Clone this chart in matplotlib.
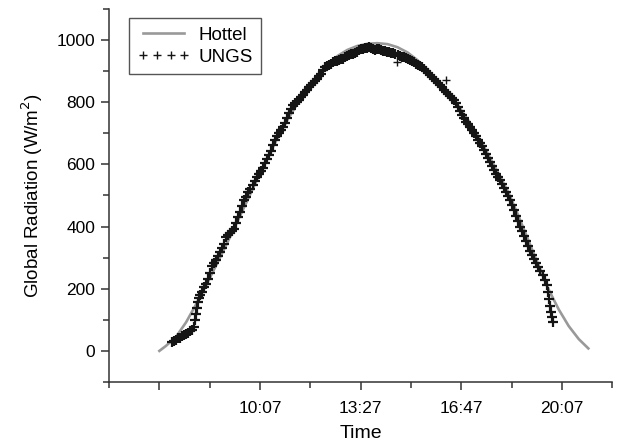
import numpy as np
import matplotlib.pyplot as plt
from matplotlib.ticker import MultipleLocator, FixedLocator

plt.rcParams['font.family'] = ['Liberation Sans', 'DejaVu Sans']

# time axis is in minutes of the day
hottel_time = [407, 420, 440, 460, 480, 500, 520, 540, 560, 580, 600, 620, 640, 660,
               680, 700, 720, 740, 760, 780, 800, 820, 840, 860, 880, 900, 920, 940,
               960, 980, 1000, 1020, 1040, 1060, 1080, 1100, 1120, 1140, 1160, 1180,
               1200, 1220, 1240, 1259]
hottel_value = [0, 16, 45, 92, 150, 212, 276, 342, 410, 478, 548, 615, 680, 740,
                792, 840, 882, 920, 948, 968, 981, 988, 990, 987, 977, 960, 935, 904,
                866, 828, 790, 742, 690, 632, 572, 510, 435, 355, 276, 198,
                134, 80, 38, 8]

# UNGS measurements, one sample every 4 minutes starting at 7:12
ungs_start = 432
ungs_step = 4
ungs_value = [30, 33, 35, 40, 42, 47, 50, 55, 58, 64, 68, 76, 118, 158, 180, 190,
              205, 214, 232, 252, 272, 283, 292, 304, 318, 330, 345, 365, 372, 378,
              385, 393, 412, 432, 448, 466, 484, 496, 510, 522, 535, 548, 558, 570,
              580, 590, 606, 618, 630, 644, 662, 680, 690, 700, 710, 721, 734, 750,
              766, 778, 790, 797, 802, 808, 816, 824, 832, 840, 848, 856, 862, 868,
              876, 884, 892, 904, 912, 917, 921, 924, 928, 932, 934, 937, 938, 940,
              946, 950, 952, 954, 956, 959, 962, 968, 970, 972, 973, 975, 977, 976,
              972, 968, 972, 970, 967, 965, 964, 962, 961, 960, 958, 956, 953, 950,
              947, 944, 942, 940, 936, 932, 928, 924, 920, 917, 912, 906, 900, 894,
              888, 882, 875, 868, 861, 854, 848, 840, 834, 828, 820, 814, 808, 796,
              784, 772, 760, 748, 738, 729, 720, 710, 700, 690, 680, 670, 658, 646,
              634, 620, 607, 594, 582, 570, 560, 550, 538, 525, 511, 498, 486, 470,
              453, 435, 418, 400, 386, 371, 355, 338, 322, 309, 296, 284, 271, 258,
              244, 228, 212, 168, 124, 92]
ungs_time = ungs_start + ungs_step * np.arange(len(ungs_value))

# extra readings on the steep morning / evening steps
step_time = [478, 482, 486, 1178, 1182, 1186]
step_value = [98, 138, 170, 190, 146, 108]

# isolated readings off the main band
outlier_time = [878, 977]
outlier_value = [931, 872]

tick_pos = [407, 607, 807, 1007, 1207]
tick_labels = ['', '10:07', '13:27', '16:47', '20:07']

fig = plt.figure(figsize=(6.17, 4.45), dpi=100)
ax = fig.add_axes([0.1767, 0.1416, 0.8160, 0.8382])

ax.plot(hottel_time, hottel_value, color='#999999', lw=1.9, label='Hottel', zorder=2)
ax.plot(np.concatenate([ungs_time, step_time]),
        np.concatenate([ungs_value, step_value]),
        ls='none', marker='+', ms=7.5, mew=1.6, color='#151515', label='UNGS', zorder=3)
ax.plot(outlier_time, outlier_value, ls='none', marker='+', ms=6, mew=1.0,
        color='#151515', zorder=3)

ax.set_xlim(307, 1307)
ax.set_ylim(-100, 1100)
ax.xaxis.set_major_locator(FixedLocator(tick_pos))
ax.set_xticklabels(tick_labels)
ax.xaxis.set_minor_locator(MultipleLocator(100, offset=7))
ax.yaxis.set_major_locator(FixedLocator([0, 200, 400, 600, 800, 1000]))
ax.yaxis.set_minor_locator(MultipleLocator(100))

for s in ['top', 'right']:
    ax.spines[s].set_visible(False)
for s in ['left', 'bottom']:
    ax.spines[s].set_color('#333333')
    ax.spines[s].set_linewidth(1.1)
ax.tick_params(which='major', direction='out', length=6, width=1.1, color='#333333',
               labelsize=12.5, pad=4)
ax.tick_params(which='minor', direction='out', length=4, width=1.1, color='#333333')
ax.tick_params(axis='x', pad=8)

ax.set_xlabel('Time', fontsize=14, labelpad=6)
ax.set_ylabel('Global Radiation (W/m$^2$)', fontsize=13.5, labelpad=8)

leg = ax.legend(loc='upper left', bbox_to_anchor=(0.04, 0.975), borderaxespad=0,
                fontsize=13.5, numpoints=4, handlelength=2.8, handletextpad=0.45,
                fancybox=False, edgecolor='#555555', framealpha=1, borderpad=0.45,
                labelspacing=0.25)
leg.get_frame().set_linewidth(1.0)
leg.legend_handles[1].set_markersize(6)
leg.legend_handles[1].set_markeredgewidth(1.0)

fig.savefig('out.png', dpi=100)
